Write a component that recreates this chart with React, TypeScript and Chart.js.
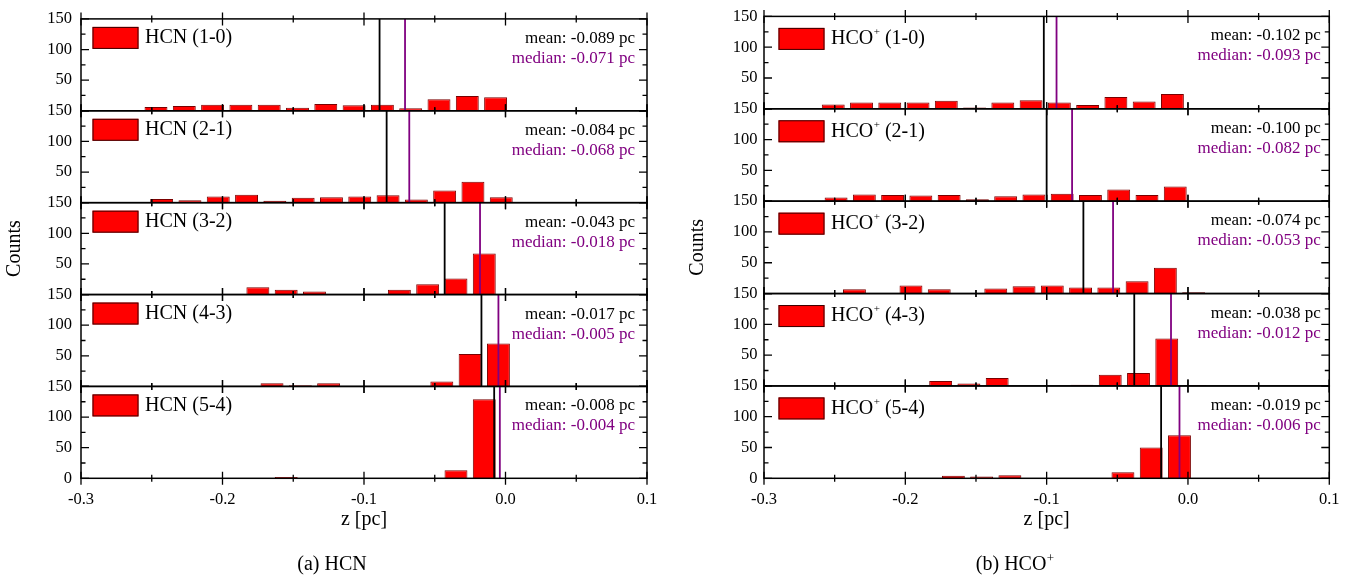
import { useEffect, useRef } from 'react';
import { Chart, registerables } from 'chart.js';

Chart.register(...registerables);

const SERIF = '"Liberation Serif", "Times New Roman", Times, serif';
const TRANSITIONS = ['(1-0)', '(2-1)', '(3-2)', '(4-3)', '(5-4)'];
const X_TICKS = [-0.3, -0.25, -0.2, -0.15, -0.1, -0.05, 0, 0.05, 0.1];
const Y_TICKS = [0, 25, 50, 75, 100, 125, 150];

// ---------- HCN: bin centres [pc] and counts ----------
const hcn10Z = [-0.247, -0.227, -0.207, -0.187, -0.167, -0.147, -0.127, -0.107, -0.087, -0.067, -0.047, -0.027, -0.007];
const hcn10N = [6, 8, 10, 10, 10, 5, 11, 9, 10, 4, 19, 24, 22];
const hcn21Z = [-0.243, -0.223, -0.203, -0.183, -0.163, -0.143, -0.123, -0.103, -0.083, -0.063, -0.043, -0.023, -0.003];
const hcn21N = [6, 4, 10, 13, 3, 8, 9, 10, 12, 5, 20, 34, 9];
const hcn32Z = [-0.175, -0.155, -0.135, -0.075, -0.055, -0.035, -0.015, 0.005];
const hcn32N = [12, 8, 5, 8, 17, 26, 67, 1];
const hcn43Z = [-0.165, -0.145, -0.125, -0.045, -0.025, -0.005];
const hcn43N = [5, 2, 5, 8, 53, 70];
const hcn54Z = [-0.155, -0.035, -0.015];
const hcn54N = [2, 13, 129];
const HCN_MEAN = [-0.089, -0.084, -0.043, -0.017, -0.008];
const HCN_MEDIAN = [-0.071, -0.068, -0.018, -0.005, -0.004];

// ---------- HCO+: bin centres [pc] and counts ----------
const hco10Z = [-0.251, -0.231, -0.211, -0.191, -0.171, -0.151, -0.131, -0.111, -0.091, -0.071, -0.051, -0.031, -0.011];
const hco10N = [7, 10, 10, 10, 13, 2, 10, 14, 10, 6, 19, 12, 24];
const hco21Z = [-0.249, -0.229, -0.209, -0.189, -0.169, -0.149, -0.129, -0.109, -0.089, -0.069, -0.049, -0.029, -0.009];
const hco21N = [6, 11, 10, 9, 10, 3, 8, 11, 12, 10, 19, 10, 24];
const hco32Z = [-0.236, -0.196, -0.176, -0.136, -0.116, -0.096, -0.076, -0.056, -0.036, -0.016, 0.004];
const hco32N = [7, 13, 7, 8, 12, 13, 10, 10, 20, 42, 2];
const hco43Z = [-0.175, -0.155, -0.135, -0.075, -0.055, -0.035, -0.015, 0.005];
const hco43N = [8, 4, 13, 2, 18, 21, 77, 1];
const hco54Z = [-0.166, -0.146, -0.126, -0.046, -0.026, -0.006];
const hco54N = [4, 3, 5, 10, 50, 70];
const HCO_MEAN = [-0.102, -0.1, -0.074, -0.038, -0.019];
const HCO_MEDIAN = [-0.093, -0.082, -0.053, -0.012, -0.006];

interface PanelDef {
  molecule: string;
  plus: boolean;
  captionPrefix: string;
  z: number[][];
  n: number[][];
  mean: number[];
  median: number[];
  canvasLeft: number;
  canvasWidth: number;
  padRight: number;
  yLabelPad: number;
  legendDX: number;
  legendDY: number;
  statDX: number;
  captionX: number;
}

const CAPTION_Y = 565;

const PANELS: PanelDef[] = [
  {
    molecule: 'HCN', plus: false, captionPrefix: '(a) ',
    z: [hcn10Z, hcn21Z, hcn32Z, hcn43Z, hcn54Z],
    n: [hcn10N, hcn21N, hcn32N, hcn43N, hcn54N],
    mean: HCN_MEAN, median: HCN_MEDIAN,
    canvasLeft: 0, canvasWidth: 675, padRight: 28, yLabelPad: 9,
    legendDX: 11.5, legendDY: 8, statDX: 12, captionX: 332,
  },
  {
    molecule: 'HCO', plus: true, captionPrefix: '(b) ',
    z: [hco10Z, hco21Z, hco32Z, hco43Z, hco54Z],
    n: [hco10N, hco21N, hco32N, hco43N, hco54N],
    mean: HCO_MEAN, median: HCO_MEDIAN,
    canvasLeft: 683, canvasWidth: 668, padRight: 21, yLabelPad: 6.5,
    legendDX: 14.5, legendDY: 11.5, statDX: 8.5, captionX: 332,
  },
];

function drawMolecule(ctx: CanvasRenderingContext2D, name: string, plus: boolean, x: number, y: number, size: number, supSize: number, suffix: string) {
  ctx.textAlign = 'left';
  ctx.textBaseline = 'middle';
  ctx.font = `${size}px ${SERIF}`;
  ctx.fillText(name, x, y);
  let cx = x + ctx.measureText(name).width;
  if (plus) {
    ctx.font = `${supSize}px ${SERIF}`;
    ctx.fillText('+', cx + 0.5, y - size * 0.33);
    cx += ctx.measureText('+').width + 0.5;
    ctx.font = `${size}px ${SERIF}`;
  }
  if (suffix) ctx.fillText(suffix, cx, y);
}

function measureMolecule(ctx: CanvasRenderingContext2D, name: string, plus: boolean, size: number, supSize: number, suffix: string) {
  ctx.font = `${size}px ${SERIF}`;
  let w = ctx.measureText(name).width + (suffix ? ctx.measureText(suffix).width : 0);
  if (plus) {
    ctx.font = `${supSize}px ${SERIF}`;
    w += ctx.measureText('+').width + 0.5;
  }
  return w;
}

function decorPlugin(p: PanelDef) {
  return {
    id: 'decor',
    afterDatasetsDraw(chart: any) {
      const ctx = chart.ctx as CanvasRenderingContext2D;
      const xs = chart.scales.x;
      const { left, right } = chart.chartArea;
      ctx.save();
      for (let k = 0; k < 5; k++) {
        const ys = chart.scales['y' + (k + 1)];
        const top = ys.getPixelForValue(150);
        const bottom = ys.getPixelForValue(0);

        // mean / median annotations
        ctx.textAlign = 'right';
        ctx.textBaseline = 'middle';
        ctx.font = `17px ${SERIF}`;
        ctx.fillStyle = '#000';
        ctx.fillText(`mean: ${p.mean[k].toFixed(3)} pc`, right - p.statDX, top + 19.5);
        ctx.fillStyle = '#800080';
        ctx.fillText(`median: ${p.median[k].toFixed(3)} pc`, right - p.statDX, top + 39.5);

        // legend
        const bx = left + p.legendDX;
        const by = top + p.legendDY;
        ctx.fillStyle = '#ff0000';
        ctx.fillRect(bx, by, 46, 22);
        ctx.strokeStyle = '#3a0000';
        ctx.lineWidth = 1;
        ctx.strokeRect(bx + 0.5, by + 0.5, 45, 21);
        ctx.fillStyle = '#000';
        drawMolecule(ctx, p.molecule, p.plus, bx + 52.5, by + 11, 20, 11, ' ' + TRANSITIONS[k]);

        // frame
        ctx.strokeStyle = '#000';
        ctx.lineWidth = 1.5;
        ctx.strokeRect(left, top, right - left, bottom - top);

        // x ticks (top & bottom of each subplot)
        ctx.lineWidth = 1.3;
        X_TICKS.forEach((v, i) => {
          const px = xs.getPixelForValue(v);
          const h = i % 2 === 0 ? 6.5 : 3.5;
          ctx.beginPath();
          ctx.moveTo(px, top - h);
          ctx.lineTo(px, top + h);
          ctx.moveTo(px, bottom - h);
          ctx.lineTo(px, bottom + h);
          ctx.stroke();
        });
        // y ticks (left & right, pointing inward)
        Y_TICKS.forEach((v) => {
          const py = ys.getPixelForValue(v);
          const len = v % 50 === 0 ? 8 : 4.5;
          ctx.beginPath();
          ctx.moveTo(left, py);
          ctx.lineTo(left + len, py);
          ctx.moveTo(right, py);
          ctx.lineTo(right - len, py);
          ctx.stroke();
        });
      }

      // caption below the panel
      ctx.fillStyle = '#000';
      const cw = measureMolecule(ctx, p.captionPrefix + p.molecule, p.plus, 20, 13, '');
      drawMolecule(ctx, p.captionPrefix + p.molecule, p.plus, p.captionX - cw / 2, CAPTION_Y, 20, 13, '');
      ctx.restore();
    },
  };
}

function buildConfig(p: PanelDef): any {
  const datasets: any[] = [];
  const scales: any = {
    x: {
      type: 'linear', axis: 'x', position: 'bottom', min: -0.3, max: 0.1, offset: false,
      grid: { display: false, drawTicks: false, offset: false },
      border: { display: false },
      ticks: {
        stepSize: 0.1, autoSkip: false, padding: 11.4, color: '#000',
        font: { family: SERIF, size: 16.5 },
        callback: (v: number) => (Math.abs(v) < 1e-9 ? '0.0' : Number(v).toFixed(1)),
      },
      title: { display: true, text: 'z [pc]', color: '#000', font: { family: SERIF, size: 20 }, padding: { top: 0, bottom: 47 } },
      afterFit: (s: any) => { s.height = 100.7; },
    },
  };
  for (let k = 0; k < 5; k++) {
    const xid = 'x' + (k + 1);
    const yid = 'y' + (k + 1);
    scales[xid] = {
      type: 'linear', axis: 'x', position: 'bottom', display: false,
      min: -0.3, max: 0.1, offset: false, grid: { offset: false }, ticks: { stepSize: 0.1 },
    };
    scales[yid] = {
      type: 'linear', axis: 'y', position: 'left', stack: 'panel', stackWeight: 1, weight: 10 - k,
      min: 0, max: 150, offset: false,
      grid: { display: false, drawTicks: false },
      border: { display: false },
      ticks: {
        stepSize: 50, autoSkip: false, padding: p.yLabelPad, color: '#000',
        font: { family: SERIF, size: 16.5 },
        callback: (v: number) => (v === 0 && k < 4 ? '' : String(v)),
      },
      title: k === 2
        ? { display: true, text: 'Counts', color: '#000', font: { family: SERIF, size: 20 }, padding: { top: 3, bottom: 0 } }
        : { display: false },
      afterFit: (s: any) => { s.width = 81; },
    };
    datasets.push({
      type: 'line',
      label: 'mean',
      data: [{ x: p.mean[k], y: 0 }, { x: p.mean[k], y: 150 }],
      borderColor: '#000000', borderWidth: 1.8, pointRadius: 0,
      xAxisID: xid, yAxisID: yid, order: 0,
    });
    datasets.push({
      type: 'line',
      label: 'median',
      data: [{ x: p.median[k], y: 0 }, { x: p.median[k], y: 150 }],
      borderColor: '#800080', borderWidth: 1.8, pointRadius: 0,
      xAxisID: xid, yAxisID: yid, order: 0,
    });
    datasets.push({
      type: 'bar',
      label: p.molecule + ' ' + TRANSITIONS[k],
      data: p.z[k].map((z, i) => ({ x: z, y: p.n[k][i] })),
      backgroundColor: '#ff0000', borderColor: '#7a0000', borderWidth: 1,
      grouped: false, barPercentage: 0.81, categoryPercentage: 1,
      xAxisID: xid, yAxisID: yid, order: 1,
    });
  }
  return {
    type: 'bar',
    data: { datasets },
    options: {
      animation: false,
      responsive: false,
      maintainAspectRatio: false,
      devicePixelRatio: 1,
      layout: { padding: { top: 12.7, left: 0, right: p.padRight, bottom: 0 } },
      plugins: { legend: { display: false }, tooltip: { enabled: false }, title: { display: false } },
      scales,
    },
    plugins: [decorPlugin(p)],
  };
}

function PanelChart({ p }: { p: PanelDef }) {
  const ref = useRef<HTMLCanvasElement | null>(null);
  useEffect(() => {
    if (!ref.current) return;
    const chart = new Chart(ref.current, buildConfig(p));
    return () => chart.destroy();
  }, [p]);
  return (
    <canvas
      ref={ref}
      width={p.canvasWidth}
      height={579}
      style={{ position: 'absolute', left: p.canvasLeft, top: 0, width: p.canvasWidth, height: 579 }}
    />
  );
}

export default function App() {
  return (
    <div style={{ position: 'absolute', left: 0, top: 0, width: 1351, height: 579, overflow: 'hidden', background: '#fff' }}>
      {PANELS.map((p, i) => (
        <PanelChart key={i} p={p} />
      ))}
    </div>
  );
}
